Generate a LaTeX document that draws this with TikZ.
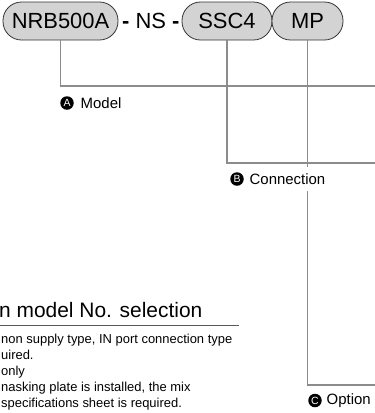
\documentclass[tikz,border=0pt]{standalone}
\usepackage{fontspec}
\setmainfont{Liberation Sans}
\usetikzlibrary{positioning}
\definecolor{pillgray}{HTML}{D3D3D3}
\definecolor{leadgray}{HTML}{8C8C8C}
\begin{document}
\begin{tikzpicture}[x=1bp,y=-1bp,
    pill/.style={draw=black!80,line width=0.8bp,fill=pillgray,rounded corners=18.5bp,
      minimum height=38bp,inner sep=0pt,font=\fontsize{22}{26}\selectfont},
    lead/.style={draw=leadgray,line width=1.4bp},
    badge/.style={circle,fill=black,text=white,inner sep=0pt,minimum size=13.5bp,
      font=\fontsize{10.5}{10.5}\selectfont},
    tag/.style={inner xsep=0pt,inner ysep=2bp,anchor=west,font=\fontsize{15}{18}\selectfont},
    note/.style={inner sep=0pt,anchor=base west,font=\fontsize{13}{16}\selectfont}]
    \useasboundingbox (0,0) rectangle (375,413);
    \node[pill,minimum width=115bp] (model) at (60.5,21) {NRB500A};
    \node[inner sep=0pt,anchor=base west,font=\fontsize{22}{26}\selectfont] (ns) at (122,28.9) {\textbf{-} NS \textbf{-}};
    \node[pill,minimum width=90bp] (conn) at (227,21) {SSC4};
    \node[pill,minimum width=71bp] (opt) at (307.5,21) {MP};
    \coordinate (enda) at (375,86);
    \coordinate (endb) at (375,163);
    \coordinate (endc) at (375,385);
    \draw[lead] (model.south) |- (enda);
    \draw[lead] (conn.south) |- (endb);
    \draw[lead] (opt.south) |- (endc);
    \node[badge] (ba) at (67,103) {A};
    \node[tag] (ta) at (80.5,103) {Model};
    \node[badge] (bb) at (237,179) {B};
    \node[tag,fill=white,inner ysep=6.5bp] (tb) at (249.5,179) {Connection};
    \node[badge] (bc) at (315,400.5) {C};
    \node[tag] (tc) at (326.5,400.5) {Option};
    \node[inner sep=0pt,anchor=base west,font=\fontsize{21}{25}\selectfont] (title) at (-1,317) {n model No. selection};
    \coordinate (rulea) at (0,325);
    \coordinate (ruleb) at (239,325);
    \draw[black!65,line width=1bp] (rulea) -- (ruleb);
    \foreach \txt [count=\i] in {{non supply type, IN port connection type},{uired.},{only},
      {nasking plate is installed, the mix},{specifications sheet is required.}}
      \node[note] (note\i) at (1,327.5+16*\i) {\txt};
\end{tikzpicture}
\end{document}
